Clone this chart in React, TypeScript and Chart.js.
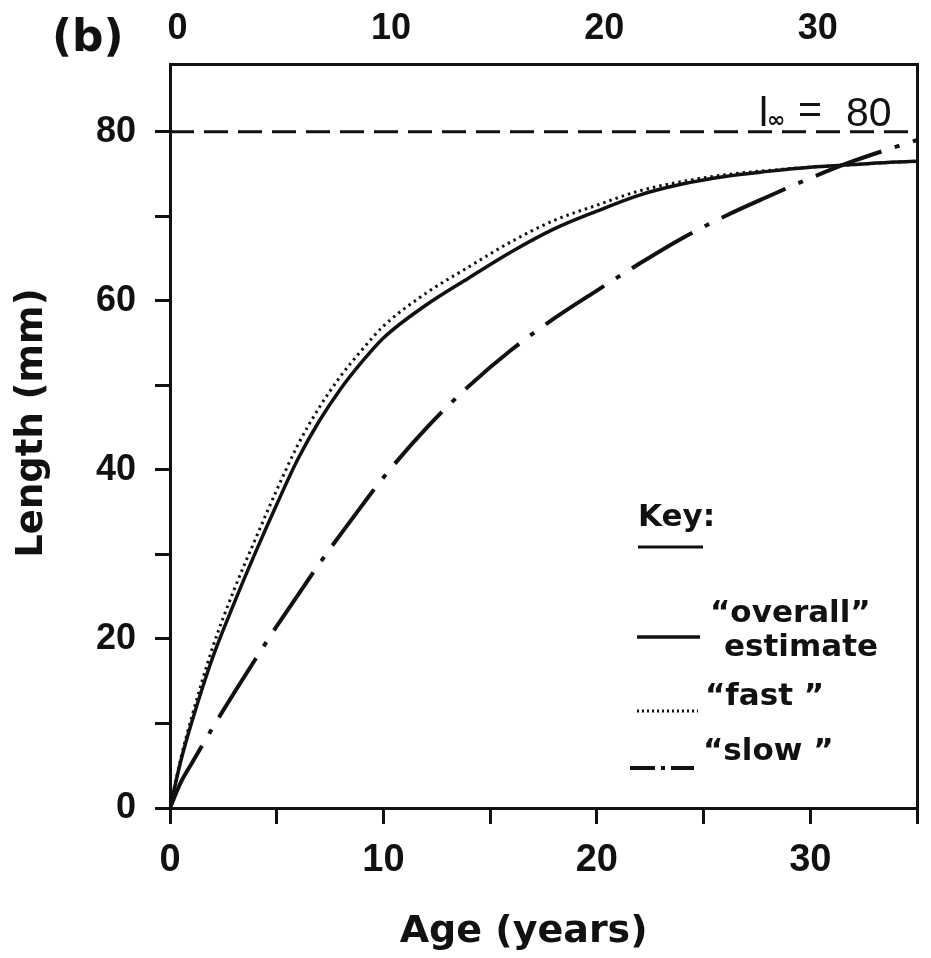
import React, { useEffect, useRef } from 'react';
import { Chart, registerables } from 'chart.js';

Chart.register(...registerables);

// ---- data ----
const AGES = [0, 0.5, 1, 2, 3, 4, 5, 6, 7, 8, 9, 10, 12, 14, 16, 18, 20, 22, 24, 26, 28, 30, 32, 34, 35];
const OVERALL = [0, 5.5, 10, 17.8, 24.2, 30.2, 35.9, 41.3, 45.8, 49.6, 52.8, 55.6, 59.5, 62.7, 65.8, 68.5, 70.6, 72.5, 73.8, 74.7, 75.3, 75.8, 76.1, 76.4, 76.5];
const FAST = [0, 5.8, 10.6, 19.0, 25.8, 31.8, 37.6, 43.0, 47.4, 51.1, 54.2, 57.0, 60.9, 64.0, 67.0, 69.5, 71.3, 73.0, 74.1, 74.9, 75.4, 75.8, 76.1, 76.4, 76.5];
const SLOW = [0, 3.0, 5.2, 9.5, 13.6, 17.6, 21.5, 25.2, 28.9, 32.4, 35.8, 39.1, 44.9, 49.9, 54.2, 57.9, 61.2, 64.4, 67.4, 70.0, 72.3, 74.5, 76.5, 78.2, 79.0];
const L_INF = 80;
const X_RANGE = [0, 35];
const Y_RANGE = [0, 88];
const X_LABEL_STEP = 10;
const Y_LABEL_STEP = 20;
const X_TICK_STEP = 5;
const Y_TICK_STEP = 10;

const INK = '#111';
const LIB = '"Liberation Sans", Arial, sans-serif';
const DJV = '"DejaVu Sans", sans-serif';

const overlayPlugin = {
  id: 'overlay',
  afterDraw(chart: any) {
    const { ctx, scales } = chart;
    const yS = scales.y;
    const line = (x1: number, y1: number, x2: number, y2: number) => {
      ctx.beginPath();
      ctx.moveTo(x1, y1);
      ctx.lineTo(x2, y2);
      ctx.stroke();
    };
    ctx.save();
    ctx.fillStyle = INK;
    ctx.strokeStyle = INK;
    ctx.textAlign = 'left';

    // panel label
    ctx.textBaseline = 'middle';
    ctx.font = `bold 44px ${DJV}`;
    ctx.fillText('(b)', 52, 40);

    // l∞ = 80 annotation
    const y80 = yS.getPixelForValue(L_INF);
    const base = y80 - 6;
    ctx.textBaseline = 'alphabetic';
    ctx.font = `41px ${LIB}`;
    ctx.fillText('l', 759, base);
    ctx.font = `bold 22px ${DJV}`;
    ctx.fillText('\u221E', 767, base + 1);
    ctx.font = `41px ${LIB}`;
    ctx.fillText('=', 798, base - 3);
    ctx.fillText(String(L_INF), 846, base);

    // key
    ctx.textBaseline = 'middle';
    ctx.font = `bold 31px ${DJV}`;
    ctx.fillText('Key:', 638, 518);
    ctx.setLineDash([]);
    ctx.lineWidth = 3;
    line(638, 547, 703, 547);

    ctx.fillText('\u201Coverall\u201D', 710, 614);
    ctx.fillText('estimate', 724, 648);
    ctx.lineWidth = 3.5;
    line(637, 637, 700, 637);

    ctx.fillText('\u201Cfast \u201D', 705, 697);
    ctx.setLineDash([2, 3]);
    ctx.lineWidth = 3;
    line(637, 711, 698, 711);

    ctx.fillText('\u201Cslow \u201D', 703, 752);
    ctx.setLineDash([25, 6, 4, 6]);
    ctx.lineWidth = 4;
    line(630, 768, 694, 768);

    ctx.restore();
  },
};

export default function App() {
  const ref = useRef<HTMLCanvasElement>(null);

  useEffect(() => {
    const canvas = ref.current;
    if (!canvas) return;
    const pts = (ys: number[]) => AGES.map((x, i) => ({ x, y: ys[i] }));
    const chart = new Chart(canvas, {
      type: 'line',
      data: {
        datasets: [
          {
            label: 'overall estimate',
            data: pts(OVERALL),
            borderColor: INK,
            borderWidth: 3.5,
            pointRadius: 0,
            fill: false,
            cubicInterpolationMode: 'monotone',
          },
          {
            label: 'fast',
            data: pts(FAST),
            borderColor: INK,
            borderWidth: 3,
            borderDash: [2.5, 4],
            pointRadius: 0,
            fill: false,
            cubicInterpolationMode: 'monotone',
          },
          {
            label: 'slow',
            data: pts(SLOW),
            borderColor: INK,
            borderWidth: 4,
            borderDash: [70, 14, 5, 14],
            pointRadius: 0,
            fill: false,
            cubicInterpolationMode: 'monotone',
          },
          {
            label: 'l_inf',
            data: [
              { x: X_RANGE[0], y: L_INF },
              { x: X_RANGE[1], y: L_INF },
            ],
            borderColor: INK,
            borderWidth: 3,
            borderDash: [24, 10],
            pointRadius: 0,
            fill: false,
          },
        ],
      } as any,
      options: {
        responsive: false,
        maintainAspectRatio: false,
        animation: false,
        layout: { padding: 0 },
        plugins: {
          legend: { display: false },
          tooltip: { enabled: false },
        },
        scales: {
          x: {
            type: 'linear',
            position: 'bottom',
            min: X_RANGE[0],
            max: X_RANGE[1],
            ticks: {
              stepSize: X_TICK_STEP,
              autoSkip: false,
              maxRotation: 0,
              callback: (v: any) => (Number(v) % X_LABEL_STEP === 0 ? String(v) : ''),
              font: { family: LIB, size: 38, weight: 'bold' },
              color: INK,
              padding: 14,
            },
            grid: { drawOnChartArea: false, drawTicks: true, tickLength: 16, lineWidth: 3, color: INK },
            border: { display: true, width: 3, color: INK },
            title: {
              display: true,
              text: 'Age (years)   ',
              font: { family: DJV, size: 38, weight: 'bold' },
              color: INK,
              padding: { top: 0, bottom: 3 },
            },
            afterFit: (s: any) => {
              s.height = 150;
            },
          },
          x2: {
            type: 'linear',
            position: 'top',
            min: X_RANGE[0] - 0.35,
            max: X_RANGE[1] - 0.35,
            ticks: {
              stepSize: X_LABEL_STEP,
              autoSkip: false,
              maxRotation: 0,
              includeBounds: false,
              callback: (v: any) => String(v),
              font: { family: LIB, size: 36, weight: 'bold' },
              color: INK,
              padding: 13,
            },
            grid: { display: false, drawTicks: false },
            border: { display: true, width: 3, color: INK },
            afterFit: (s: any) => {
              s.height = 64;
            },
          },
          y: {
            type: 'linear',
            position: 'left',
            min: Y_RANGE[0],
            max: Y_RANGE[1],
            ticks: {
              stepSize: Y_TICK_STEP,
              autoSkip: false,
              includeBounds: false,
              callback: (v: any) => (Number(v) % Y_LABEL_STEP === 0 ? String(v) : ''),
              font: { family: LIB, size: 36, weight: 'bold' },
              color: INK,
              padding: 19,
            },
            grid: { drawOnChartArea: false, drawTicks: true, tickLength: 15, lineWidth: 3, color: INK },
            border: { display: true, width: 3, color: INK },
            title: {
              display: true,
              text: '  Length (mm)',
              font: { family: DJV, size: 37, weight: 'bold' },
              color: INK,
              padding: { top: 10, bottom: 0 },
            },
            afterFit: (s: any) => {
              s.width = 170;
            },
          },
          y2: {
            type: 'linear',
            position: 'right',
            min: Y_RANGE[0],
            max: Y_RANGE[1],
            ticks: { display: false },
            grid: { display: false, drawTicks: false },
            border: { display: true, width: 3, color: INK },
            afterFit: (s: any) => {
              s.width = 6;
            },
          },
        },
      } as any,
      plugins: [overlayPlugin],
    });
    return () => chart.destroy();
  }, []);

  return (
    <div style={{ position: 'fixed', left: 0, top: 0, width: 931, height: 958, background: '#fff' }}>
      <canvas ref={ref} width={931} height={958} style={{ display: 'block' }} />
    </div>
  );
}
